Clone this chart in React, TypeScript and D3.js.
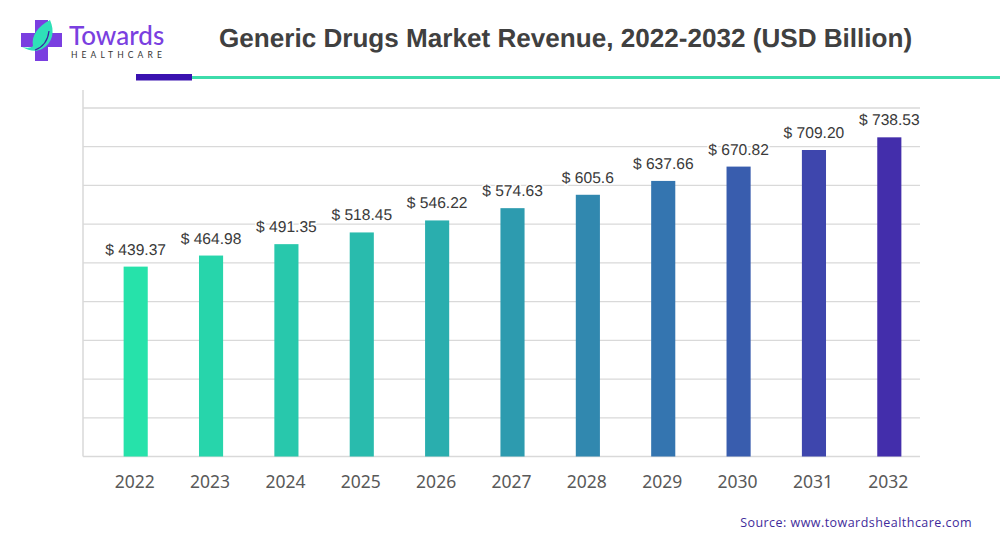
import React, { useEffect } from 'react';
import * as d3 from 'd3';

const years = ['2022', '2023', '2024', '2025', '2026', '2027', '2028', '2029', '2030', '2031', '2032'];
const revenue = [439.37, 464.98, 491.35, 518.45, 546.22, 574.63, 605.6, 637.66, 670.82, 709.2, 738.53];
const revenueLabels = ['439.37', '464.98', '491.35', '518.45', '546.22', '574.63', '605.6', '637.66', '670.82', '709.20', '738.53'];
const gridTicks = [0, 89.6, 179.2, 268.8, 358.4, 448, 537.6, 627.2, 716.8, 806.4];
const barColorStops = ['#26e2aa', '#2aaeae', '#3475b0', '#432eab'];

const App: React.FC = () => {
  const svgRef = React.useRef<SVGSVGElement>(null);

  useEffect(() => {
    const svg = d3.select(svgRef.current);
    svg.selectAll('*').remove();

    const width = 1000;
    const margin = { top: 108, bottom: 456.5, left: 83, right: 920 };

    const xScale = d3.scaleBand<string>().domain(years).range([98, 927]).paddingInner(0.68).paddingOuter(0.34);
    const yScale = d3.scaleLinear().domain([0, 806.4]).range([margin.bottom, margin.top]);
    const colorScale = d3.scaleLinear<string>()
      .domain([0, 4, 7, 10])
      .range(barColorStops);

    // Header
    svg.append('text')
      .attr('x', 219)
      .attr('y', 47)
      .attr('font-family', '"Liberation Sans", sans-serif')
      .attr('font-weight', 700)
      .attr('font-size', 26.1)
      .attr('text-rendering', 'geometricPrecision')
      .attr('fill', '#404040')
      .text('Generic Drugs Market Revenue, 2022-2032 (USD Billion)');

    svg.append('line')
      .attr('x1', 192).attr('x2', width)
      .attr('y1', 77.5).attr('y2', 77.5)
      .attr('stroke', '#3ddcab')
      .attr('stroke-width', 3);
    svg.append('rect')
      .attr('x', 136).attr('y', 74)
      .attr('width', 56).attr('height', 6.5)
      .attr('fill', '#3a12b0');

    // Logo
    const logo = svg.append('g');
    logo.append('path')
      .attr('d', 'M35 20H48V33H62V47H48V61H35V47H21V33H35Z')
      .attr('fill', '#7a3fe0');
    logo.append('path')
      .attr('d', 'M50 20C55 31 53 43 42 49C36 52 29 51 22 47C27 48 31 48 33 46C31 36 38 26 50 20Z')
      .attr('fill', '#2fe0b8');
    logo.append('path')
      .attr('d', 'M49 31C48 40 43 47 35 50')
      .attr('fill', 'none')
      .attr('stroke', '#3b1fa0')
      .attr('stroke-width', 1.2);
    logo.append('text')
      .attr('x', 69).attr('y', 44.5)
      .attr('font-family', 'Lato, sans-serif')
      .attr('font-weight', 500)
      .attr('font-size', 26)
      .attr('fill', '#7a3fe0')
      .text('Towards');
    logo.append('text')
      .attr('x', 71).attr('y', 58)
      .attr('font-family', 'Lato, sans-serif')
      .attr('font-size', 8.5)
      .attr('letter-spacing', 4.1)
      .attr('fill', '#333')
      .text('HEALTHCARE');

    // Grid lines
    svg.append('g')
      .selectAll('line')
      .data(gridTicks)
      .join('line')
      .attr('x1', margin.left)
      .attr('x2', margin.right)
      .attr('y1', d => yScale(d))
      .attr('y2', d => yScale(d))
      .attr('stroke', '#d9d9d9')
      .attr('stroke-width', 1.3);

    svg.append('line')
      .attr('x1', margin.left).attr('x2', margin.left)
      .attr('y1', 90).attr('y2', margin.bottom)
      .attr('stroke', '#d9d9d9')
      .attr('stroke-width', 1.5);

    // Bars
    svg.append('g')
      .selectAll('rect')
      .data(revenue)
      .join('rect')
      .attr('x', (d, i) => xScale(years[i]) as number)
      .attr('y', d => yScale(d))
      .attr('width', xScale.bandwidth())
      .attr('height', d => margin.bottom - yScale(d))
      .attr('fill', (d, i) => colorScale(i));

    // Value labels
    svg.append('g')
      .selectAll('text')
      .data(revenue)
      .join('text')
      .attr('x', (d, i) => (xScale(years[i]) as number) + xScale.bandwidth() / 2)
      .attr('y', d => yScale(d) - 12)
      .attr('text-anchor', 'middle')
      .attr('font-family', '"Liberation Sans", sans-serif')
      .attr('font-size', 15.6)
      .attr('text-rendering', 'geometricPrecision')
      .attr('fill', '#3a3a3a')
      .attr('stroke', '#fff')
      .attr('stroke-width', 3)
      .attr('paint-order', 'stroke')
      .text((d, i) => `$ ${revenueLabels[i]}`);

    // Year labels
    svg.append('g')
      .selectAll('text')
      .data(years)
      .join('text')
      .attr('x', d => (xScale(d) as number) + xScale.bandwidth() / 2 - 1)
      .attr('y', 488)
      .attr('text-anchor', 'middle')
      .attr('font-family', '"Noto Sans", sans-serif')
      .attr('font-size', 17.5)
      .attr('fill', '#595959')
      .text(d => d);

    // Source
    svg.append('text')
      .attr('x', 972)
      .attr('y', 527)
      .attr('text-anchor', 'end')
      .attr('font-family', '"Open Sans", sans-serif')
      .attr('font-size', 12.5)
      .attr('letter-spacing', 0.46)
      .attr('fill', '#3f2b9b')
      .text('Source: www.towardshealthcare.com');
  }, []);

  return (
    <svg
      ref={svgRef}
      width={1000}
      height={542}
      style={{ position: 'absolute', left: 0, top: 0, background: '#fff' }}
    />
  );
};

export default App;
